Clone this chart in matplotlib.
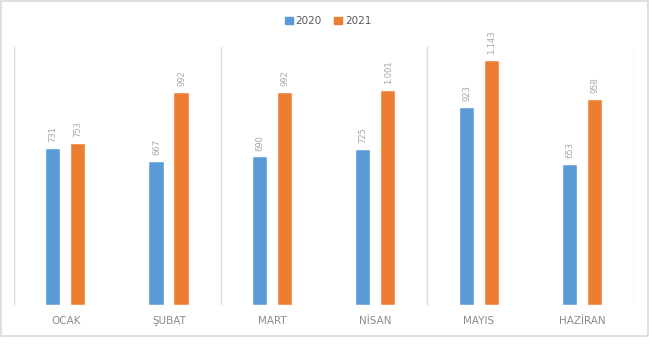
import matplotlib

matplotlib.use("Agg")

import matplotlib.pyplot as plt
import numpy as np
from matplotlib.patches import Rectangle

months = ["OCAK", "ŞUBAT", "MART", "NİSAN", "MAYIS", "HAZİRAN"]
series_names = ["2020", "2021"]
values_2020 = [731, 667, 690, 725, 923, 653]
values_2021 = [753, 992, 992, 1001, 1143, 958]
labels_2020 = ["731", "667", "690", "725", "923", "653"]
labels_2021 = ["753", "992", "992", "1.001", "1.143", "958"]

BLUE = "#5B9BD5"
ORANGE = "#ED7D31"
GRID = "#d9d9d9"
TEXT = "#8c8c8c"

fig = plt.figure(figsize=(6.5, 3.6), dpi=100)
fig.patches.append(
    Rectangle((0.0015, 0.067), 0.995, 0.930, transform=fig.transFigure,
              fill=False, edgecolor=GRID, linewidth=1.2)
)

ax = fig.add_axes([0.0215, 0.1528, 0.954, 0.7167])
x = np.arange(len(months))
width = 0.136
offset = 0.121

for vals, labels, color, sign in [
    (values_2020, labels_2020, BLUE, -1),
    (values_2021, labels_2021, ORANGE, 1),
]:
    bars = ax.bar(x + sign * offset, vals, width, color=color,
                  edgecolor="white", linewidth=0.3, zorder=3)
    for bar, text in zip(bars, labels):
        ax.annotate(text, (bar.get_x() + bar.get_width() / 2, bar.get_height()),
                    xytext=(0, 5), textcoords="offset points",
                    rotation=90, ha="center", va="bottom",
                    fontsize=6, color="#a6a6a6")

ax.set_xlim(-0.5, len(months) - 0.5)
ax.set_ylim(0, 1207)
for sep in [-0.5, 1.5, 3.5, 5.5]:
    ax.axvline(sep, color=GRID, linewidth=1, zorder=1)

for side in ax.spines.values():
    side.set_visible(False)
ax.set_yticks([])
ax.set_xticks(x)
ax.set_xticklabels(months, fontsize=7.5, color=TEXT)
ax.tick_params(axis="x", length=0, pad=8)

handles = [Rectangle((0, 0), 1, 1, color=BLUE), Rectangle((0, 0), 1, 1, color=ORANGE)]
fig.legend(handles, series_names, loc="center", bbox_to_anchor=(0.505, 0.942),
           ncol=2, frameon=False, fontsize=7.5, handlelength=0.7, handleheight=0.7,
           handletextpad=0.3, columnspacing=1.2, labelcolor="#595959")

fig.savefig("out.png", dpi=100)
